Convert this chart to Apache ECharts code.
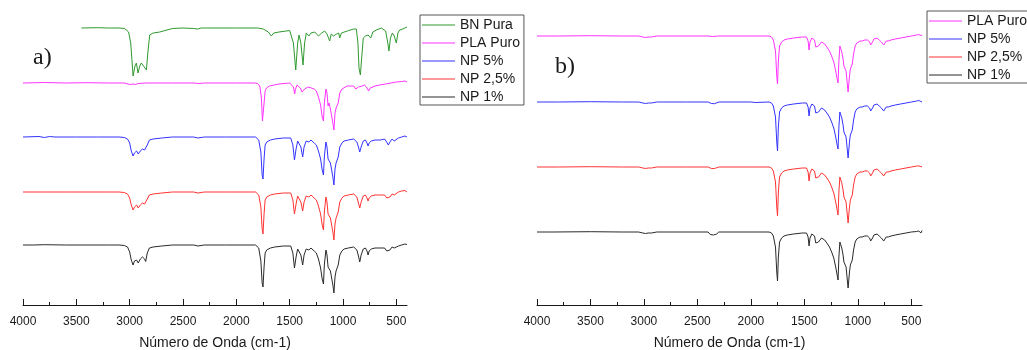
<!DOCTYPE html>
<html>
<head>
<meta charset="utf-8">
<script src="https://cdn.jsdelivr.net/npm/echarts@6/dist/echarts.min.js"></script>
<style>
  html, body { margin: 0; padding: 0; background: #fff; }
  #chart { width: 1027px; height: 350px; }
</style>
</head>
<body>
<div id="chart"></div>
<script>
// FTIR spectra, wavenumber (cm-1) vs relative transmittance (arbitrary units,
// baseline = 0, absorption bands negative). Curves are stacked with offsets.

const tickLabels = [4000, 3500, 3000, 2500, 2000, 1500, 1000, 500];
const minorTicks = [3750, 3250, 2750, 2250, 1750, 1250, 750];

const namesA = ['BN Pura', 'PLA Puro', 'NP 5%', 'NP 2,5%', 'NP 1%'];
const namesB = ['PLA Puro', 'NP 5%', 'NP 2,5%', 'NP 1%'];
const colors = {
  'BN Pura': '#2f9a2f',
  'PLA Puro': '#ff33ff',
  'NP 5%': '#3333ff',
  'NP 2,5%': '#ff3333',
  'NP 1%': '#2a2a2a'
};

// stacking offsets of each curve
const offsetsA = [277, 222, 168, 113, 60];
const offsetsB = [269, 203, 138, 73];

// ---- panel a) ----
const bnPuraA = [
  [3453,0],[3300,0.3],[3200,0],[3100,0],[3047,-0.5],[3030,-1.5],[3010,-4],[2990,-15],[2968,-48],[2950,-38],
  [2937,-35],[2922,-45],[2905,-38],[2890,-35],[2870,-38],[2843,-42],[2830,-25],[2812,-7],[2780,-5],[2718,-4],
  [2700,-2],[2600,-0.5],[2500,0],[2400,-0.5],[2362,-1],[2330,0],[2200,0],[2000,0],[1800,0],[1747,-1],
  [1700,-4],[1672,-8],[1650,-5],[1600,-4],[1500,-2.5],[1484,-3],[1465,-15],[1443,-42],[1425,-15],[1412,-7],
  [1395,-15],[1375,-37],[1360,-15],[1344,-5],[1320,-8],[1300,-5],[1265,-4],[1230,-8],[1200,-5],[1172,-3],
  [1150,-6],[1125,-13],[1110,-6],[1090,-8],[1078,-10],[1060,-6],[1040,-5],[1031,-10],[1015,-5],[960,-3],
  [900,-1],[875,-1],[860,-15],[850,-40],[837,-47],[825,-30],[810,-10],[790,-8],[765,-7],[740,-10],
  [720,-4],[687,-2],[640,0],[600,-3],[580,-15],[569,-23],[555,-10],[537,-5],[520,-8],[500,-15],
  [485,-5],[469,-2],[440,-1],[420,0],[400,1]
];

const plaPuroA = [
  [4000,0],[3800,0.5],[3600,0],[3400,0.3],[3200,0],[3050,0],[3000,-1.5],[2990,-2],[2970,-1],[2945,-1.5],
  [2920,-0.5],[2850,0],[2600,0],[2400,0],[2360,-0.5],[2300,0],[2000,0],[1830,0],[1800,-0.5],[1780,-3],
  [1765,-15],[1755,-38],[1748,-40],[1740,-20],[1730,-8],[1718,-5],[1690,-3],[1672,-2],[1600,-1],[1500,0],
  [1484,0],[1465,-4],[1453,-11],[1445,-6],[1431,-2],[1415,-1],[1400,-5],[1383,-9],[1370,-7],[1360,-6],
  [1330,-4],[1313,-2],[1297,-5],[1270,-6],[1250,-8],[1230,-14],[1210,-22],[1195,-34],[1183,-38],[1175,-20],
  [1160,-6],[1150,-10],[1140,-23],[1130,-20],[1118,-26],[1108,-28],[1095,-40],[1085,-47],[1075,-30],[1065,-25],
  [1055,-27],[1045,-20],[1030,-10],[1010,-6],[1000,-5],[960,-3],[937,-3],[900,-3],[880,-6],[868,-8],
  [855,-4],[840,-2],[820,-3],[800,-2],[780,-4],[760,-8],[745,-5],[730,-3],[700,-3],[656,-2],
  [600,-1],[500,1],[450,1.5],[420,2],[400,1]
];

const np5A = [
  [4000,0],[3850,0.5],[3800,-0.5],[3750,0.5],[3700,0],[3500,0],[3300,0],[3100,0],[3050,-0.5],[3020,-2],
  [3000,-6],[2985,-14],[2968,-19],[2955,-16],[2935,-14],[2920,-17],[2900,-14],[2880,-12],[2860,-13],[2850,-15],
  [2835,-8],[2815,-3],[2780,-2],[2700,-1],[2600,0],[2400,0],[2360,-1],[2300,0],[2100,0],[1900,0],
  [1820,0],[1790,-3],[1770,-15],[1758,-38],[1750,-42],[1740,-22],[1730,-8],[1715,-5],[1680,-3],[1665,-3],
  [1640,-2],[1560,-1],[1490,-1],[1470,-8],[1455,-23],[1440,-12],[1425,-4],[1410,-3],[1395,-10],[1378,-20],
  [1365,-10],[1345,-4],[1320,-5],[1300,-3],[1270,-6],[1250,-8],[1230,-14],[1210,-22],[1195,-33],[1183,-38],
  [1175,-20],[1160,-5],[1150,-10],[1140,-22],[1128,-20],[1118,-26],[1108,-28],[1095,-40],[1085,-48],[1075,-32],
  [1065,-26],[1055,-28],[1045,-20],[1030,-10],[1010,-6],[990,-4],[950,-3],[900,-2],[870,-5],[855,-10],
  [843,-15],[830,-10],[810,-4],[790,-3],[775,-6],[765,-9],[755,-6],[735,-4],[700,-3],[650,-3],
  [610,-2],[590,-5],[575,-8],[560,-5],[540,-2],[520,-4],[505,-3],[480,-1],[450,0],[420,1],[400,0]
];

const np25A = [
  [4000,0],[3800,0],[3600,0],[3400,0],[3200,0],[3100,0],[3050,-0.5],[3020,-2],[3000,-6],[2985,-13],
  [2968,-18],[2955,-15],[2935,-13],[2920,-16],[2900,-13],[2880,-11],[2860,-12],[2850,-14],[2835,-7],[2815,-3],
  [2780,-2],[2700,-1],[2600,0],[2400,0],[2360,-1],[2300,0],[2100,0],[1900,0],[1820,0],[1790,-3],
  [1770,-15],[1758,-37],[1750,-42],[1740,-22],[1730,-8],[1715,-5],[1680,-3],[1665,-3],[1640,-2],[1560,-1],
  [1490,-1],[1470,-8],[1455,-22],[1440,-12],[1425,-4],[1410,-3],[1395,-10],[1378,-19],[1365,-10],[1345,-4],
  [1320,-5],[1300,-3],[1270,-6],[1250,-8],[1230,-14],[1210,-22],[1195,-33],[1183,-38],[1175,-20],[1160,-5],
  [1150,-10],[1140,-22],[1128,-20],[1118,-26],[1108,-28],[1095,-40],[1085,-48],[1075,-32],[1065,-26],[1055,-28],
  [1045,-20],[1030,-10],[1010,-6],[990,-4],[950,-3],[900,-2],[870,-5],[855,-11],[843,-16],[830,-10],
  [810,-4],[790,-3],[775,-6],[765,-9],[755,-6],[735,-4],[700,-3],[650,-3],[610,-3],[590,-6],
  [575,-8],[560,-5],[540,-2],[520,-3],[505,-2],[480,0],[450,1],[420,1.5],[400,0]
];

const np1A = [
  [4000,0],[3900,0],[3800,0.3],[3600,0],[3400,0],[3200,0],[3100,0],[3050,-0.5],[3020,-2],[3000,-7],
  [2985,-15],[2968,-20],[2955,-16],[2935,-15],[2920,-18],[2900,-14],[2880,-12],[2860,-14],[2850,-16.5],[2835,-8],
  [2815,-3],[2780,-2],[2700,-1],[2600,0],[2400,0],[2360,-1],[2300,0],[2100,0],[1900,0],[1820,0],
  [1790,-3],[1770,-16],[1758,-38],[1750,-42],[1740,-22],[1730,-8],[1715,-5],[1680,-3],[1665,-3],[1640,-2],
  [1560,-1],[1490,-1],[1470,-8],[1455,-23],[1440,-12],[1425,-4],[1410,-3],[1395,-10],[1378,-20],[1365,-10],
  [1345,-4],[1320,-5],[1300,-3],[1270,-6],[1250,-8],[1230,-14],[1210,-23],[1195,-34],[1183,-39],[1175,-20],
  [1160,-5],[1150,-10],[1140,-22],[1128,-20],[1118,-26],[1108,-28],[1095,-40],[1085,-48],[1075,-32],[1065,-26],
  [1055,-28],[1045,-20],[1030,-10],[1010,-6],[990,-4],[950,-3],[900,-2],[870,-5],[855,-11],[843,-17],
  [830,-10],[810,-4],[790,-3],[775,-6],[765,-10],[755,-6],[735,-4],[700,-3],[650,-3],[610,-3],
  [590,-6],[575,-8],[560,-5],[540,-2],[520,-3],[505,-2],[480,-1],[450,0],[420,1],[400,0.5]
];

// ---- panel b) ----
const plaPuroB = [
  [4000,0],[3800,0],[3500,0.3],[3200,0],[3050,0],[3010,-1],[2997,-3],[2985,-1.5],[2960,-1],[2945,-2.5],
  [2930,-1],[2880,0],[2600,0],[2400,0],[2360,-0.5],[2300,0],[2000,0],[1830,0],[1807,-1],[1790,-4],
  [1770,-15],[1758,-40],[1751,-48],[1743,-25],[1732,-10],[1713,-6],[1690,-4],[1660,-3],[1600,-2],[1520,-1],
  [1480,-1],[1465,-5],[1456,-14],[1447,-6],[1430,-2],[1415,-1],[1405,-4],[1393,-11],[1383,-9],[1368,-10],
  [1355,-8],[1340,-6],[1330,-5],[1310,-8],[1290,-11],[1278,-13],[1265,-15],[1245,-20],[1225,-26],[1207,-35],
  [1195,-42],[1185,-47],[1177,-25],[1168,-10],[1163,-8],[1150,-16],[1138,-23],[1130,-30],[1120,-28],[1110,-35],
  [1100,-46],[1091,-56],[1085,-58],[1078,-40],[1070,-33],[1060,-33],[1052,-28],[1040,-18],[1025,-10],[1010,-7],
  [998,-7],[980,-5],[960,-5],[935,-4],[910,-4],[890,-6],[880,-9],[873,-10],[862,-6],[850,-3],
  [842,-2],[820,-2],[800,-4],[780,-6],[770,-8],[758,-9],[748,-7],[735,-5],[715,-5],[690,-4],
  [650,-3],[600,-2],[550,-1],[500,0],[450,1],[430,1.5],[420,2],[410,0.5],[400,0.8]
];

const np5B = [
  [4000,0],[3800,0],[3500,0.3],[3200,0],[3050,0],[3010,-1],[2997,-3],[2985,-1.5],[2960,-1],[2945,-2.5],
  [2930,-1],[2880,0],[2600,0],[2400,0],[2370,-1.5],[2340,-1.7],[2300,0],[2000,0],[1960,-0.5],[1830,0],
  [1807,-1],[1790,-4],[1770,-15],[1758,-40],[1751,-49],[1743,-25],[1732,-10],[1713,-6],[1690,-4],[1660,-3],
  [1600,-2],[1520,-1],[1480,-1],[1465,-5],[1456,-14],[1447,-6],[1430,-2],[1415,-1],[1405,-4],[1393,-11],
  [1383,-9],[1368,-10],[1355,-8],[1340,-6],[1330,-5],[1310,-8],[1290,-11],[1278,-13],[1265,-15],[1245,-20],
  [1225,-26],[1207,-35],[1195,-42],[1185,-47],[1177,-25],[1168,-10],[1163,-8],[1150,-16],[1138,-23],[1130,-30],
  [1120,-28],[1110,-35],[1100,-46],[1091,-56],[1085,-58],[1078,-40],[1070,-33],[1060,-33],[1052,-28],[1040,-18],
  [1025,-10],[1010,-7],[998,-7],[980,-5],[960,-5],[935,-4],[910,-4],[890,-6],[880,-9],[873,-10],
  [862,-6],[850,-3],[842,-2],[820,-2],[800,-4],[780,-6],[770,-8],[758,-9],[748,-7],[735,-5],
  [715,-5],[690,-4],[650,-3],[600,-2],[550,-1],[500,0],[450,1],[430,1.5],[420,2],[410,0.5],[400,0]
];

const np25B = [
  [4000,0],[3800,0],[3500,0.3],[3200,0],[3050,0],[3010,-1],[2997,-3],[2985,-1.5],[2960,-1],[2945,-2.5],
  [2930,-1],[2880,0],[2600,0],[2400,0],[2370,-1.5],[2340,-1.5],[2300,0],[2000,0],[1830,0],[1807,-1],
  [1790,-4],[1770,-15],[1758,-40],[1751,-49],[1743,-25],[1732,-10],[1713,-6],[1690,-4],[1660,-3],[1600,-2],
  [1520,-1],[1480,-1],[1465,-5],[1456,-14],[1447,-6],[1430,-2],[1415,-1],[1405,-4],[1393,-11],[1383,-9],
  [1368,-10],[1355,-8],[1340,-6],[1330,-5],[1310,-8],[1290,-11],[1278,-13],[1265,-15],[1245,-20],[1225,-26],
  [1207,-35],[1195,-42],[1185,-48],[1177,-25],[1168,-10],[1163,-8],[1150,-16],[1138,-23],[1130,-30],[1120,-28],
  [1110,-35],[1100,-46],[1091,-56],[1085,-58],[1078,-40],[1070,-33],[1060,-33],[1052,-28],[1040,-18],[1025,-10],
  [1010,-7],[998,-7],[980,-5],[960,-5],[935,-4],[910,-4],[890,-6],[880,-9],[873,-10],[862,-6],
  [850,-3],[842,-2],[820,-2],[800,-4],[780,-6],[770,-8],[758,-9],[748,-7],[735,-5],[715,-5],
  [690,-4],[650,-3],[600,-2],[550,-1],[500,0],[450,1],[430,1],[420,1.5],[410,0.5],[400,0]
];

const np1B = [
  [4000,0],[3850,0],[3845,-0.8],[3840,0],[3500,0.3],[3200,0],[3050,0],[3010,-1],[2997,-3],[2985,-1.5],
  [2960,-1],[2945,-2.5],[2930,-1],[2880,0],[2600,0],[2400,0],[2380,-2.5],[2350,-3],[2320,-2],[2300,0],
  [2000,0],[1830,0],[1807,-1],[1790,-4],[1770,-15],[1758,-40],[1751,-49],[1743,-25],[1732,-10],[1713,-6],
  [1690,-4],[1660,-3],[1600,-2],[1520,-1],[1480,-1],[1465,-5],[1456,-14],[1447,-6],[1430,-2],[1415,-1],
  [1405,-4],[1393,-11],[1383,-9],[1368,-10],[1355,-8],[1340,-6],[1330,-5],[1310,-8],[1290,-11],[1278,-13],
  [1265,-15],[1245,-20],[1225,-26],[1207,-35],[1195,-42],[1185,-48],[1177,-25],[1168,-10],[1163,-8],[1150,-16],
  [1138,-23],[1130,-30],[1120,-28],[1110,-35],[1100,-46],[1091,-56],[1085,-58],[1078,-40],[1070,-33],[1060,-33],
  [1052,-28],[1040,-18],[1025,-10],[1010,-7],[998,-7],[980,-5],[960,-5],[935,-4],[910,-4],[890,-6],
  [880,-9],[873,-10],[862,-6],[850,-3],[842,-2],[820,-2],[800,-4],[780,-6],[770,-8],[758,-9],
  [748,-7],[735,-5],[715,-5],[690,-4],[650,-3],[600,-2],[550,-1],[500,0],[450,0.5],[430,1],
  [420,0.5],[410,-1],[400,1.5]
];

const spectraA = [bnPuraA, plaPuroA, np5A, np25A, np1A];
const spectraB = [plaPuroB, np5B, np25B, np1B];

const FONT = '"Liberation Sans", Arial, sans-serif';
const INK = '#1a1a1a';

function mainXAxis(gridIndex) {
  return {
    gridIndex, type: 'value', inverse: true, min: 400, max: 4000,
    name: 'Número de Onda (cm-1)', nameLocation: 'middle', nameGap: 31,
    nameTextStyle: { fontFamily: FONT, fontSize: 14, color: INK },
    axisLine: { show: true, lineStyle: { color: INK, width: 1 } },
    axisTick: { show: true, inside: true, length: 6, customValues: tickLabels,
                lineStyle: { color: INK, width: 1 } },
    axisLabel: { show: true, customValues: tickLabels, margin: 11,
                 formatter: v => String(v),
                 fontFamily: FONT, fontSize: 12, color: INK },
    splitLine: { show: false }
  };
}
function minorXAxis(gridIndex) {
  return {
    gridIndex, type: 'value', inverse: true, min: 400, max: 4000, position: 'bottom',
    axisLine: { show: false },
    axisTick: { show: true, inside: true, length: 3, customValues: minorTicks,
                lineStyle: { color: INK, width: 1 } },
    axisLabel: { show: false }, splitLine: { show: false }
  };
}
function yAxis(gridIndex) {
  return { gridIndex, type: 'value', min: 0, max: 300, show: false };
}

const series = [];
namesA.forEach((n, i) => series.push({
  name: n, type: 'line', xAxisIndex: 0, yAxisIndex: 0, symbol: 'none', silent: true,
  lineStyle: { color: colors[n], width: 1 }, itemStyle: { color: colors[n] },
  data: spectraA[i].map(([w, v]) => [w, v + offsetsA[i]])
}));
namesB.forEach((n, i) => series.push({
  name: n, type: 'line', xAxisIndex: 2, yAxisIndex: 1, symbol: 'none', silent: true,
  lineStyle: { color: colors[n], width: 1 }, itemStyle: { color: colors[n] },
  data: spectraB[i].map(([w, v]) => [w, v + offsetsB[i]])
}));

const legendBase = {
  orient: 'vertical', icon: 'rect', itemWidth: 33, itemHeight: 1, itemGap: 4,
  backgroundColor: '#fff', borderColor: '#555', borderWidth: 1,
  textStyle: { fontFamily: FONT, fontSize: 14, color: INK, lineHeight: 14 },
  selectedMode: false
};

const chart = echarts.init(document.getElementById('chart'), null, { renderer: 'canvas' });
chart.setOption({
  animation: false,
  backgroundColor: '#fff',
  grid: [
    { left: 23, right: 620, top: 5, bottom: 45, outerBoundsMode: 'none', containLabel: false },
    { left: 537, right: 105, top: 5, bottom: 45, outerBoundsMode: 'none', containLabel: false }
  ],
  xAxis: [mainXAxis(0), minorXAxis(0), mainXAxis(1), minorXAxis(1)],
  yAxis: [yAxis(0), yAxis(1)],
  legend: [
    Object.assign({}, legendBase, { data: namesA, left: 420, top: 15, padding: [3, 4, 1, 2] }),
    Object.assign({}, legendBase, { data: namesB, left: 927, top: 11, padding: [3, 30, 1, 2] })
  ],
  graphic: [
    { type: 'text', left: 33, top: 46,
      style: { text: 'a)', font: '24px "Liberation Serif", "Times New Roman", serif', fill: INK } },
    { type: 'text', left: 555, top: 55,
      style: { text: 'b)', font: '24px "Liberation Serif", "Times New Roman", serif', fill: INK } }
  ],
  series
});
</script>
</body>
</html>
